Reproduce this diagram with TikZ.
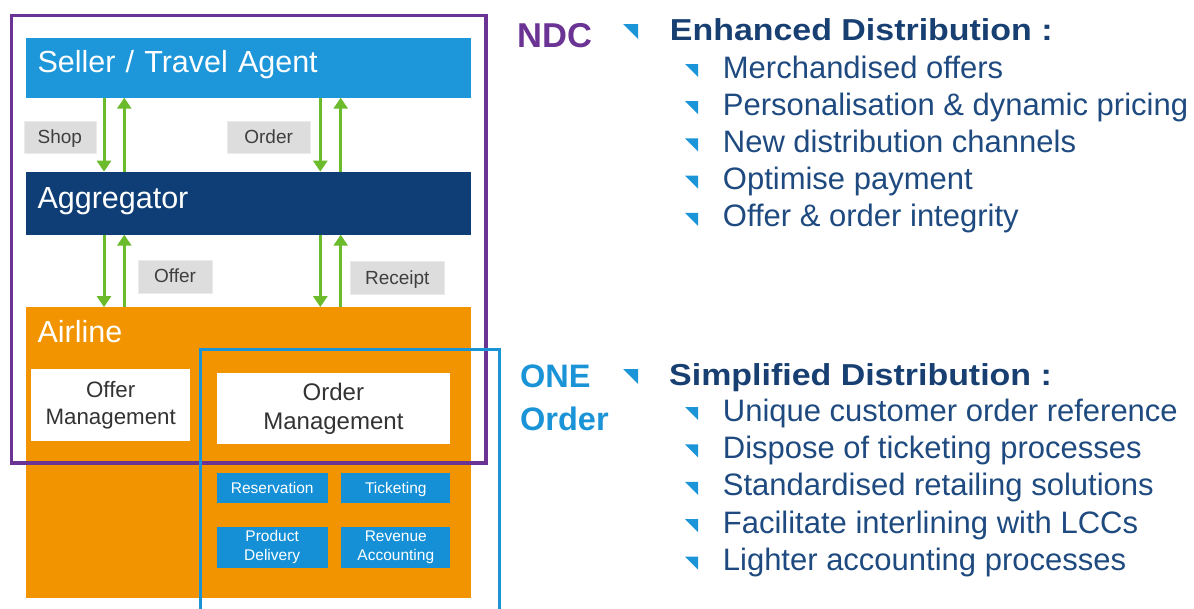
\documentclass[tikz,border=0pt]{standalone}
\usepackage{fontspec}
\setmainfont{Liberation Sans}
\newfontfamily\headfont[FakeStretch=1.12]{Liberation Sans}
\usepackage{tikz}
\usetikzlibrary{arrows.meta,positioning}
\definecolor{sellerblue}{HTML}{1E96DA}
\definecolor{aggrblue}{HTML}{0F3E77}
\definecolor{airorange}{HTML}{F29400}
\definecolor{procblue}{HTML}{1590D6}
\definecolor{arrowgreen}{HTML}{6CBB2D}
\definecolor{taggrey}{HTML}{DDDDDD}
\definecolor{tagtext}{HTML}{3F3F3F}
\definecolor{mgmttext}{HTML}{333333}
\definecolor{ndcpurple}{HTML}{6B3394}
\definecolor{oneblue}{HTML}{1A93D7}
\definecolor{headnavy}{HTML}{183F72}
\definecolor{pointnavy}{HTML}{1E4A80}
\definecolor{tickblue}{HTML}{1B95D8}

\begin{document}
\begin{tikzpicture}[
    x=1pt,
    y=1pt,
    >={Triangle[width=14pt,length=11pt]},
    band/.style={
		rectangle,
		anchor=north west,
		inner sep=0pt,
		inner xsep=12pt,
		text width=421.4pt,
		align=left,
		text height=22.5pt,
		text depth=12pt,
		text=white,
		font=\fontsize{30.5}{36}\selectfont
	},
	tag/.style={
		rectangle,
		fill=taggrey,
		draw=taggrey!60,
		inner sep=0pt,
		minimum height=32.6pt,
		text height=13pt,
		text depth=0pt,
		text=tagtext,
		font=\fontsize{19}{22}\selectfont
	},
	mgmt/.style={
		rectangle,
		anchor=north west,
		fill=white,
		inner sep=0pt,
		align=center,
		text=mgmttext
	},
	proc/.style={
		rectangle,
		anchor=north west,
		fill=procblue,
		inner sep=0pt,
		align=center,
		text=white,
		font=\fontsize{15.5}{19}\selectfont
	},
	flow/.style={
		draw=arrowgreen,
		line width=3pt
	},
	point/.style={
		anchor=base west,
		inner sep=0pt,
		text=pointnavy,
		font=\fontsize{31}{36}\selectfont
	},
	heading/.style={
		anchor=base west,
		inner sep=0pt,
		text=headnavy,
		font=\headfont\bfseries\fontsize{30.3}{36}\selectfont
	},
	tick/.style={
		fill=tickblue
	}
  ]
\useasboundingbox (0,0) rectangle (1194,-608);

% // The layers
\node [band, fill=sellerblue, minimum height=59.6pt] (seller) at (25.3,-37.7) {Seller / Travel Agent};
\node [band, fill=aggrblue, minimum height=62.6pt, below=74pt of seller.south west, anchor=north west] (aggr) {Aggregator};
\node [band, fill=airorange, minimum height=291pt, below=72.4pt of aggr.south west, anchor=north west,
  label={[anchor=base west, inner sep=0pt, xshift=12pt, yshift=-35.6pt, text=white, font=\fontsize{30.5}{36}\selectfont]north west:Airline}] (airline) {};

% // Messages
 \draw [flow, ->]  ([xshift=78.7pt]seller.south west) -- ([xshift=78.7pt]aggr.north west);
 \draw [flow, ->]  ([xshift=99pt]aggr.north west) -- ([xshift=99pt]seller.south west);
 \draw [flow, ->]  ([xshift=295pt]seller.south west) -- ([xshift=295pt]aggr.north west);
 \draw [flow, ->]  ([xshift=315.4pt]aggr.north west) -- ([xshift=315.4pt]seller.south west);
 \draw [flow, ->]  ([xshift=78.7pt]aggr.south west) -- ([xshift=78.7pt]airline.north west);
 \draw [flow, ->]  ([xshift=99pt]airline.north west) -- ([xshift=99pt]aggr.south west);
 \draw [flow, ->]  ([xshift=295pt]aggr.south west) -- ([xshift=295pt]airline.north west);
 \draw [flow, ->]  ([xshift=315.4pt]airline.north west) -- ([xshift=315.4pt]aggr.south west);

\node [tag, minimum width=71.7pt] (shop) at (59.85,-137) {Shop};
\node [tag, minimum width=82.7pt] (order) at (268.65,-137) {Order};
\node [tag, minimum width=73.4pt] (offer) at (175,-276.4) {Offer};
\node [tag, minimum width=94pt] (receipt) at (397.3,-277.5) {Receipt};

% // Airline systems
\node [mgmt, minimum width=159pt, minimum height=72pt, font=\fontsize{22.3}{27.4}\selectfont] (offermgmt) at (31,-369) {Offer\\Management};
\node [mgmt, minimum width=233pt, minimum height=71.7pt, font=\fontsize{24}{29}\selectfont] (ordermgmt) at (216.7,-372.3) {Order\\Management};

\node [proc, minimum width=110.6pt, minimum height=30pt, text height=11pt, text depth=0pt] (reservation) at (216.7,-472.7) {Reservation};
\node [proc, minimum width=109pt, minimum height=30pt, text height=11pt, text depth=0pt, right=13.4pt of reservation.north east, anchor=north west] (ticketing) {Ticketing};
\node [proc, minimum width=110.6pt, minimum height=41.7pt, below=23.3pt of reservation.south west, anchor=north west] (delivery) {Product\\Delivery};
\node [proc, minimum width=109pt, minimum height=41.7pt, below=23.3pt of ticketing.south west, anchor=north west] (revenue) {Revenue\\Accounting};

% // The frames
\node [rectangle, draw=ndcpurple, line width=3.5pt, anchor=north west, minimum width=474.5pt, minimum height=447.5pt] (ndcframe) at (9.5,-13.5) {};
\draw [draw=oneblue, line width=3pt] (200.5,-612) |- (499.5,-349.5) -- (499.5,-612);

% // NDC
\node [anchor=base west, inner sep=0pt, text=ndcpurple, font=\bfseries\fontsize{34.5}{40}\selectfont] (ndc) at (517,-47) {NDC};
\fill [tick] (623,-24) -- (638,-24) -- (638,-39) -- cycle;
\node [heading] (enhanced) at (669.7,-40) {Enhanced Distribution :};
\fill [tick] (685,-64) -- (698,-64) -- (698,-77) -- cycle;
\node [point] (merch) at (722.7,-78) {Merchandised offers};
\fill [tick] (685,-101.2) -- (698,-101.2) -- (698,-114.2) -- cycle;
\node [point] (pricing) at (722.7,-115.2) {Personalisation \& dynamic pricing};
\fill [tick] (685,-138.4) -- (698,-138.4) -- (698,-151.4) -- cycle;
\node [point] (channels) at (722.7,-152.4) {New distribution channels};
\fill [tick] (685,-175.6) -- (698,-175.6) -- (698,-188.6) -- cycle;
\node [point] (payment) at (722.7,-189.6) {Optimise payment};
\fill [tick] (685,-212.8) -- (698,-212.8) -- (698,-225.8) -- cycle;
\node [point] (integrity) at (722.7,-226.8) {Offer \& order integrity};

% // ONE Order
\node [anchor=base west, inner sep=0pt, text=oneblue, align=left, font=\bfseries\fontsize{32.5}{43}\selectfont] (oneorder) at (520,-430) {ONE\\Order};
\fill [tick] (623,-369) -- (638,-369) -- (638,-384) -- cycle;
\node [heading] (simplified) at (669,-385) {Simplified Distribution :};
\fill [tick] (685,-407) -- (698,-407) -- (698,-420) -- cycle;
\node [point] (reference) at (722.7,-421) {Unique customer order reference};
\fill [tick] (685,-444.4) -- (698,-444.4) -- (698,-457.4) -- cycle;
\node [point] (dispose) at (722.7,-458.4) {Dispose of ticketing processes};
\fill [tick] (685,-481.8) -- (698,-481.8) -- (698,-494.8) -- cycle;
\node [point] (retailing) at (722.7,-495.8) {Standardised retailing solutions};
\fill [tick] (685,-519.2) -- (698,-519.2) -- (698,-532.2) -- cycle;
\node [point] (interlining) at (722.7,-533.2) {Facilitate interlining with LCCs};
\fill [tick] (685,-556.6) -- (698,-556.6) -- (698,-569.6) -- cycle;
\node [point] (accounting) at (722.7,-570.6) {Lighter accounting processes};

\end{tikzpicture}
\end{document}
